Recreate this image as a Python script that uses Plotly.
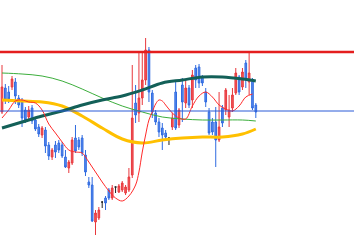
import plotly.graph_objects as go

# Candle data (price units), index = trading day
opens  = [138,162,158,163,168,152,148,140,133,142,130,123,115,120,105,93,105,107,105,93,
          82,87,112,110,112,95,68,65,28,32,48,52,60,52,63,58,60,57,60,75,
          147,137,152,170,200,157,137,128,122,117,112,123,158,125,165,147,162,150,182,183,
          172,158,138,128,128,110,142,140,133,142,157,173,163,187,168,170,145]
closes = [163,150,151,171,154,145,132,130,140,129,121,116,122,104,94,100,98,100,94,83,
          88,110,99,103,97,78,65,29,37,40,48,47,52,62,63,64,67,63,73,132,
          135,152,170,200,158,138,128,118,115,113,112,132,122,140,148,162,145,175,170,167,
          167,148,117,118,110,123,127,160,140,155,177,158,178,170,177,142,138]
highs  = [185,166,164,174,172,155,152,143,144,145,132,126,124,123,108,102,109,110,108,100,
          90,113,125,113,115,100,73,73,40,43,48,54,62,65,63,66,69,65,82,185,
          165,198,197,212,203,160,140,132,127,120,112,137,170,142,172,170,165,180,185,186,
          175,162,142,132,143,158,145,162,155,162,182,175,182,190,198,172,147]
lows   = [136,146,147,160,146,142,123,127,130,126,119,113,112,97,90,90,92,97,92,82,
          77,85,97,100,94,74,62,28,15,30,42,40,50,50,57,57,58,55,58,72,
          127,128,145,165,148,132,125,113,100,110,105,120,120,122,128,142,142,142,162,162,
          164,143,115,115,83,108,123,135,123,138,155,155,160,162,155,140,132]

# Moving averages (index, value)
ma_idx   = [0, 6, 12, 18, 24, 30, 36, 42, 48, 54, 60, 66, 72, 76]
ma_long  = [122,128,134,139,145,150,154,160,167,170,173,173,171,169]   # dark teal
ma_mid   = [177,176,174,169,161,152,144,138,133,131,130,130,130,129]   # green
ma_gold  = [150,149,148,144,134,122,111,107,110,112,113,113,116,121]   # gold

ma_short_idx = [0,2,4,6,8,10,12,14,16,18,20,22,24,26,28,30,32,34,36,38,40,41,42,43,44,45,
                46,47,48,49,51,53,55,57,59,61,63,65,67,69,71,73,75]
ma_short     = [132,140,149,150,148,147,140,126,117,108,100,98,97,88,78,68,59,52,49,54,65,78,
                98,115,130,138,146,150,149,145,137,132,131,144,154,158,153,145,141,139,144,153,156]

resistance = 198
reference = 139

idx = list(range(len(opens)))

doji = [i for i in idx if opens[i] == closes[i]]
body = [i for i in idx if opens[i] != closes[i]]

fig = go.Figure()

fig.add_trace(go.Candlestick(
    x=body,
    open=[opens[i] for i in body], high=[highs[i] for i in body],
    low=[lows[i] for i in body], close=[closes[i] for i in body],
    increasing=dict(line=dict(color="#e8383d", width=1), fillcolor="#f0585c"),
    decreasing=dict(line=dict(color="#2f6be0", width=1), fillcolor="#5b8af0"),
    whiskerwidth=0, hoverinfo="skip"))

fig.add_trace(go.Candlestick(
    x=doji,
    open=[opens[i] for i in doji], high=[highs[i] for i in doji],
    low=[lows[i] for i in doji], close=[closes[i] for i in doji],
    increasing=dict(line=dict(color="#222222", width=1), fillcolor="#222222"),
    decreasing=dict(line=dict(color="#222222", width=1), fillcolor="#222222"),
    whiskerwidth=0, hoverinfo="skip"))

fig.add_trace(go.Scatter(x=ma_idx, y=ma_mid, mode="lines",
                         line=dict(color="#3cae3c", width=1, shape="spline"), hoverinfo="skip"))
fig.add_trace(go.Scatter(x=ma_idx, y=ma_gold, mode="lines",
                         line=dict(color="#ffc000", width=3, shape="spline"), hoverinfo="skip"))
fig.add_trace(go.Scatter(x=ma_idx, y=ma_long, mode="lines",
                         line=dict(color="#136058", width=3, shape="spline"), hoverinfo="skip"))
fig.add_trace(go.Scatter(x=ma_short_idx, y=ma_short, mode="lines",
                         line=dict(color="#ff2a2a", width=1, shape="spline"), hoverinfo="skip"))

fig.add_hline(y=resistance, line=dict(color="#e41e1e", width=2.5))
fig.add_hline(y=reference, line=dict(color="#2a5bd7", width=1))

fig.update_layout(
    width=354, height=246,
    margin=dict(l=0, r=0, t=0, b=0),
    paper_bgcolor="white", plot_bgcolor="white",
    showlegend=False,
    xaxis=dict(range=[-0.6, 105.4], visible=False, rangeslider=dict(visible=False)),
    yaxis=dict(range=[4, 250], visible=False),
)

fig.write_html("out.html")
